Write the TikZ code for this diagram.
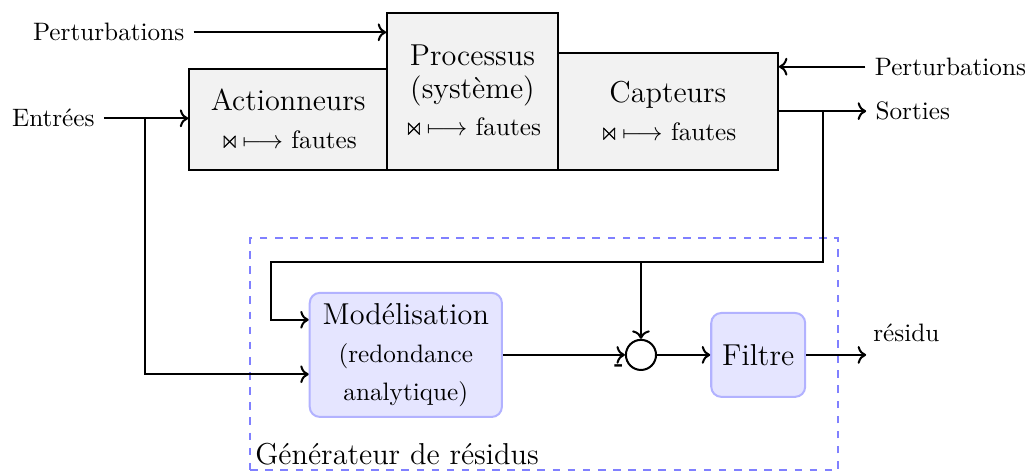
\documentclass[tikz,border=0pt]{standalone}
\usepackage{amsmath,amssymb}
\usepackage{tikz}
\usetikzlibrary{calc,arrows.meta}
\newcommand{\defaut}{${\Join}\!\longmapsto$ fautes}

\begin{document}
\begin{tikzpicture}[thick,
	bloc/.style={draw,fill=gray!10,align=center,inner sep=0pt},
	modele/.style={draw=blue!30,fill=blue!10,rounded corners=4pt,align=center,inner sep=0pt},
	generateur/.style={draw=blue!50,dashed,inner sep=0pt}]
				\useasboundingbox (0,0) rectangle (14.38,-6.6);
				% chaine du systeme
				\node[bloc,minimum width=2.76cm,minimum height=1.41cm] (act) at (4.02,-1.665) {{\large Actionneurs}\\[3pt] \defaut};
				\node[bloc,minimum width=2.38cm,minimum height=2.19cm] (proc) at (6.59,-1.275) {{\large Processus}\\[1pt] {\large (syst\`eme)}\\[3pt] \defaut};
				\node[bloc,minimum width=3.07cm,minimum height=1.63cm] (capt) at (9.315,-1.555) {{\large Capteurs}\\[3pt] \defaut};
				\node (pertg) [anchor=east] at (2.70,-0.45) {Perturbations};
				\node (entrees) [anchor=east] at (1.45,-1.65) {Entr\'ees};
				\node (pertd) [anchor=west] at (12.07,-0.93) {Perturbations};
				\node (sorties) [anchor=west] at (12.08,-1.55) {Sorties};
				% generateur de residus
				\node[generateur,minimum width=8.2cm,minimum height=3.24cm] (gen) at (7.59,-4.94) {};
				\node (nomgen) [anchor=south west,inner sep=2pt] at (gen.south west) {\large G\'en\'erateur de r\'esidus};
				\node[modele,minimum width=2.68cm,minimum height=1.73cm] (mod) at (5.66,-4.95) {{\large Mod\'elisation}\\[3pt] (redondance\\[3pt] analytique)};
				\node[draw,circle,minimum size=0.42cm,inner sep=0pt] (sum) at (8.94,-4.95) {};
				\node (moins) at ([xshift=-0.15cm,yshift=-0.03cm]sum.south west) {\textbf{-}};
				\node[modele,minimum width=1.31cm,minimum height=1.17cm] (filtre) at (10.575,-4.95) {\large Filtre};
				\coordinate (res) at (12.08,-4.95);
				\node (residu) [anchor=south west] at (12.05,-4.90) {r\'esidu};
				\coordinate (b1) at (2.02,-1.65);
				\coordinate (b2) at (11.48,-1.55);
				\coordinate (haut) at (3.78,-3.65);
				\coordinate (modin1) at ([yshift=0.49cm]mod.west);
				\coordinate (modin2) at ([yshift=-0.27cm]mod.west);
				% liaisons
				\draw[->] (pertg) -- (pertg -| proc.west);
				\draw[->] (entrees) -- (entrees -| act.west);
				\draw[->] (pertd) -- (pertd -| capt.east);
				\draw[->] (capt.east |- sorties) -- (sorties);
				\draw[->] (b1) |- (modin2);
				\draw[->] (b2) |- (haut) |- (modin1);
				\draw[->] (sum.north |- haut) -- (sum.north);
				\draw[->] (mod.east) -- (sum.west);
				\draw[->] (sum.east) -- (filtre.west);
				\draw[->] (filtre.east) -- (res);
			\end{tikzpicture}
\end{document}
